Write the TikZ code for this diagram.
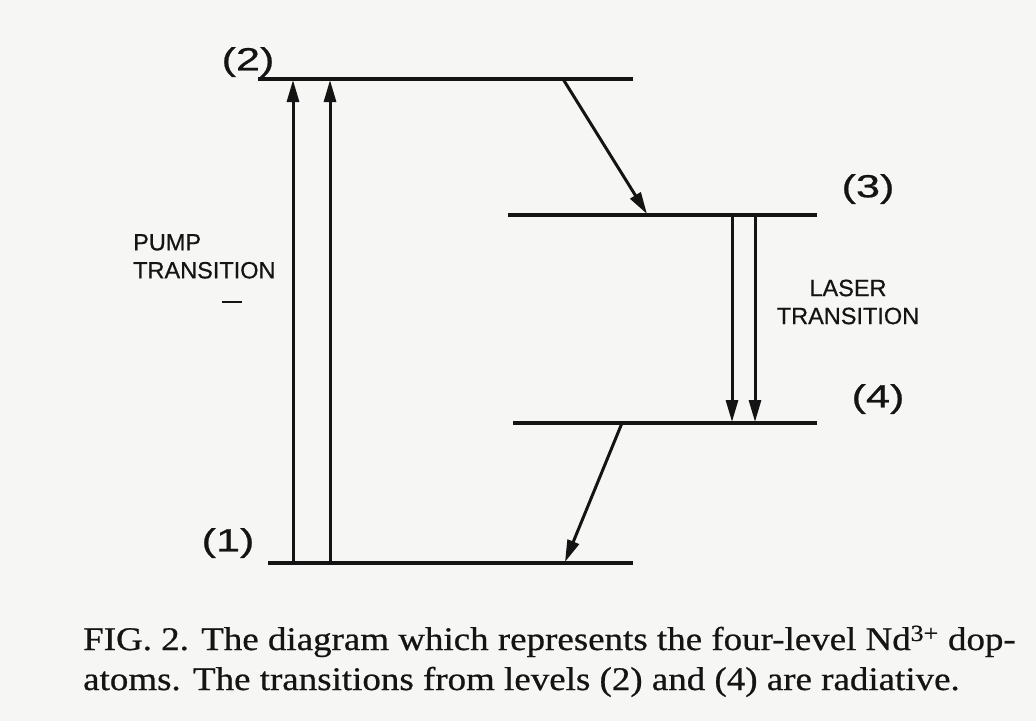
\documentclass[tikz,border=0pt]{standalone}
\usepackage{fontspec}
\setmainfont{Liberation Serif}[FakeBold=0.6]
\newfontfamily\labfont{Liberation Sans}[FakeBold=0.6]
\usetikzlibrary{arrows.meta}
\definecolor{paper}{RGB}{246,246,244}
\definecolor{ink}{RGB}{20,20,20}
\begin{document}
\begin{tikzpicture}[x=1pt,y=-1pt,
  level/.style={draw=ink,line width=3.8pt},
  trans/.style={draw=ink,line width=3pt,-{Triangle[length=22pt,width=12pt]}},
  lbl/.style={font=\labfont\fontsize{32}{36}\selectfont,text=ink,inner sep=0pt},
  small/.style={font=\labfont\fontsize{23.5}{28}\selectfont,text=ink,inner sep=0pt},
  capt/.style={font=\fontsize{33}{38}\selectfont,text=ink,inner sep=0pt,anchor=base west}]
\fill[paper] (0,0) rectangle (1036,721);
\useasboundingbox (0,0) rectangle (1036,721);
% levels
\coordinate (L2a) at (258,79);  \coordinate (L2b) at (633,79);
\coordinate (L3a) at (508,215); \coordinate (L3b) at (817,215);
\coordinate (L4a) at (513,423); \coordinate (L4b) at (817,423);
\coordinate (L1a) at (268,563); \coordinate (L1b) at (633,563);
\draw[level] (L2a) -- (L2b);
\draw[level] (L3a) -- (L3b);
\draw[level] (L4a) -- (L4b);
\draw[level] (L1a) -- (L1b);
% transition end points
\coordinate (p1s) at (293,563); \coordinate (p1e) at (293,80);
\coordinate (p2s) at (330,563); \coordinate (p2e) at (330,80);
\coordinate (l1s) at (732,215); \coordinate (l1e) at (732,422);
\coordinate (l2s) at (755,215); \coordinate (l2e) at (755,422);
\coordinate (d1s) at (563,79);  \coordinate (d1e) at (647,214);
\coordinate (d2s) at (622,423); \coordinate (d2e) at (565,562);
\draw[trans] (p1s) -- (p1e);
\draw[trans] (p2s) -- (p2e);
\draw[trans] (l1s) -- (l1e);
\draw[trans] (l2s) -- (l2e);
\draw[trans] (d1s) -- (d1e);
\draw[trans] (d2s) -- (d2e);
% labels
\node[lbl] (n2) at (248,62) {\scalebox{1.35}[1]{(2)}};
\node[lbl] (n3) at (868,189) {\scalebox{1.35}[1]{(3)}};
\node[lbl] (n4) at (878,399) {\scalebox{1.35}[1]{(4)}};
\node[lbl] (n1) at (228,543) {\scalebox{1.35}[1]{(1)}};
\node[small,anchor=north west,align=left] (pump) at (133,234) {PUMP\\TRANSITION};
\draw[draw=ink,line width=1.8pt] (222,302) -- (242,302);
\node[small,align=center] (laser) at (848,302) {LASER\\TRANSITION};
% caption
\node[capt] (c1) at (83,650) {\scalebox{1.12}[1]{FIG. 2. The diagram which represents the four-level Nd\textsuperscript{3+} dop-}};
\node[capt] (c2) at (83,690) {\scalebox{1.12}[1]{atoms. The transitions from levels (2) and (4) are radiative.}};
\end{tikzpicture}
\end{document}
